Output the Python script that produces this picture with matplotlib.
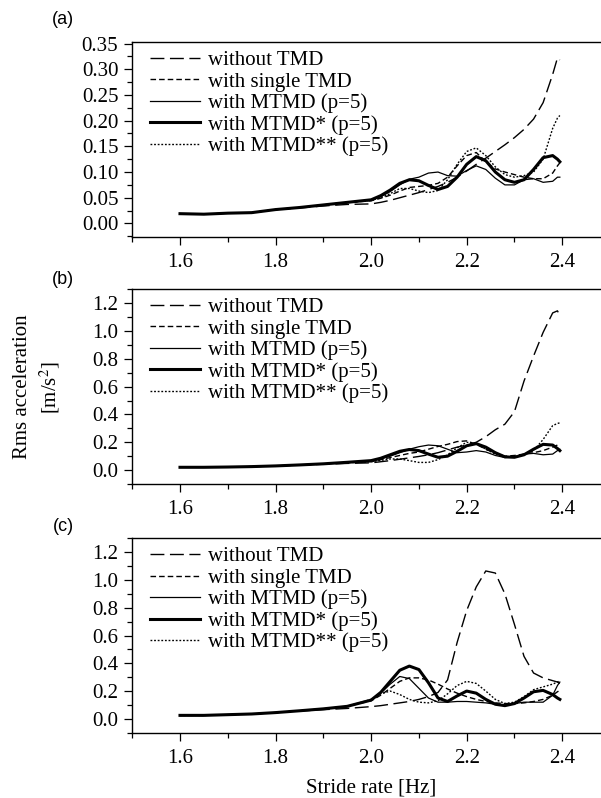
import matplotlib
matplotlib.use("Agg")
import matplotlib.pyplot as plt
from matplotlib.ticker import MultipleLocator, FormatStrFormatter

plt.rcParams["font.family"] = ["Liberation Serif", "DejaVu Serif"]
plt.rcParams["mathtext.fontset"] = "stix"

# stride rate grid shared by every curve [Hz]
STRIDE = [1.60, 1.65, 1.70, 1.75, 1.80, 1.85, 1.90, 1.95, 2.00, 2.02, 2.04, 2.06,
          2.08, 2.10, 2.12, 2.14, 2.16, 2.18, 2.20, 2.22, 2.24, 2.26, 2.28, 2.30,
          2.32, 2.34, 2.36, 2.38, 2.39, 2.395]

LABELS = ["without TMD", "with single TMD", "with MTMD (p=5)",
          "with MTMD* (p=5)", "with MTMD** (p=5)"]

# panel (a)
A_NONE = [0.019, 0.018, 0.020, 0.021, 0.027, 0.030, 0.034, 0.037, 0.038, 0.041, 0.045, 0.050,
          0.055, 0.060, 0.066, 0.072, 0.080, 0.090, 0.102, 0.115, 0.127, 0.140, 0.153, 0.167,
          0.183, 0.203, 0.235, 0.290, 0.322, 0.318]
A_SINGLE = [0.019, 0.018, 0.020, 0.021, 0.027, 0.031, 0.036, 0.041, 0.044, 0.049, 0.055, 0.063,
            0.070, 0.072, 0.074, 0.078, 0.090, 0.112, 0.132, 0.138, 0.120, 0.106, 0.100, 0.095,
            0.090, 0.087, 0.087, 0.098, 0.112, 0.118]
A_MTMD = [0.019, 0.018, 0.020, 0.021, 0.027, 0.031, 0.036, 0.041, 0.045, 0.052, 0.062, 0.075,
          0.086, 0.090, 0.098, 0.100, 0.093, 0.092, 0.103, 0.112, 0.105, 0.088, 0.075, 0.075,
          0.085, 0.087, 0.080, 0.082, 0.090, 0.090]
A_MTMD1 = [0.019, 0.018, 0.020, 0.021, 0.027, 0.031, 0.036, 0.041, 0.046, 0.054, 0.065, 0.078,
           0.085, 0.083, 0.074, 0.066, 0.072, 0.090, 0.115, 0.130, 0.122, 0.100, 0.085, 0.080,
           0.085, 0.105, 0.128, 0.132, 0.125, 0.120]
A_MTMD2 = [0.019, 0.018, 0.020, 0.021, 0.027, 0.031, 0.036, 0.041, 0.045, 0.050, 0.058, 0.068,
           0.068, 0.063, 0.060, 0.064, 0.085, 0.115, 0.140, 0.147, 0.132, 0.110, 0.095, 0.090,
           0.093, 0.100, 0.125, 0.185, 0.205, 0.210]

# panel (b)
B_NONE = [0.020, 0.020, 0.022, 0.025, 0.030, 0.036, 0.042, 0.048, 0.052, 0.060, 0.068, 0.078,
          0.088, 0.098, 0.110, 0.125, 0.145, 0.165, 0.180, 0.200, 0.240, 0.290, 0.330, 0.420,
          0.640, 0.820, 0.990, 1.130, 1.145, 1.110]
B_SINGLE = [0.020, 0.020, 0.022, 0.025, 0.030, 0.037, 0.045, 0.053, 0.060, 0.075, 0.090, 0.105,
            0.120, 0.130, 0.150, 0.170, 0.185, 0.205, 0.210, 0.185, 0.150, 0.120, 0.100, 0.105,
            0.115, 0.125, 0.140, 0.165, 0.180, 0.185]
B_MTMD = [0.020, 0.020, 0.022, 0.025, 0.030, 0.037, 0.045, 0.055, 0.065, 0.080, 0.100, 0.125,
          0.150, 0.168, 0.180, 0.175, 0.150, 0.125, 0.130, 0.140, 0.130, 0.105, 0.090, 0.095,
          0.115, 0.120, 0.110, 0.115, 0.140, 0.150]
B_MTMD1 = [0.020, 0.020, 0.022, 0.025, 0.030, 0.037, 0.045, 0.056, 0.068, 0.085, 0.110, 0.135,
           0.148, 0.140, 0.115, 0.092, 0.100, 0.135, 0.175, 0.190, 0.165, 0.125, 0.095, 0.092,
           0.110, 0.150, 0.185, 0.180, 0.155, 0.140]
B_MTMD2 = [0.020, 0.020, 0.022, 0.025, 0.030, 0.037, 0.045, 0.054, 0.060, 0.070, 0.080, 0.080,
           0.068, 0.055, 0.055, 0.075, 0.110, 0.160, 0.200, 0.190, 0.150, 0.115, 0.095, 0.095,
           0.110, 0.140, 0.220, 0.320, 0.335, 0.340]

# panel (c)
C_NONE = [0.025, 0.025, 0.030, 0.035, 0.045, 0.056, 0.066, 0.075, 0.088, 0.095, 0.105, 0.115,
          0.125, 0.140, 0.160, 0.190, 0.280, 0.550, 0.780, 0.950, 1.065, 1.050, 0.900, 0.680,
          0.450, 0.330, 0.295, 0.275, 0.265, 0.255]
C_SINGLE = [0.025, 0.025, 0.030, 0.035, 0.045, 0.058, 0.072, 0.090, 0.130, 0.170, 0.220, 0.270,
            0.295, 0.295, 0.280, 0.250, 0.215, 0.185, 0.160, 0.140, 0.125, 0.115, 0.110, 0.110,
            0.115, 0.125, 0.140, 0.170, 0.195, 0.205]
C_MTMD = [0.025, 0.025, 0.030, 0.035, 0.045, 0.058, 0.072, 0.090, 0.135, 0.185, 0.250, 0.305,
          0.290, 0.220, 0.150, 0.120, 0.120, 0.125, 0.125, 0.120, 0.115, 0.105, 0.100, 0.110,
          0.120, 0.120, 0.120, 0.170, 0.240, 0.265]
C_MTMD1 = [0.025, 0.025, 0.030, 0.035, 0.045, 0.058, 0.072, 0.090, 0.135, 0.190, 0.270, 0.350,
           0.380, 0.355, 0.260, 0.150, 0.125, 0.165, 0.200, 0.185, 0.140, 0.105, 0.095, 0.110,
           0.150, 0.195, 0.205, 0.175, 0.150, 0.140]
C_MTMD2 = [0.025, 0.025, 0.030, 0.035, 0.045, 0.058, 0.072, 0.090, 0.140, 0.180, 0.200, 0.175,
           0.140, 0.120, 0.115, 0.130, 0.180, 0.240, 0.270, 0.255, 0.200, 0.140, 0.110, 0.120,
           0.160, 0.210, 0.230, 0.250, 0.265, 0.275]

STYLES = [
    dict(lw=1.0, dashes=(10, 4)),
    dict(lw=1.0, dashes=(4, 2.2)),
    dict(lw=0.9, ls="-"),
    dict(lw=2.2, ls="-"),
    dict(lw=1.0, dashes=(1.3, 1.3)),
]

PANELS = [
    ("(a)", [A_NONE, A_SINGLE, A_MTMD, A_MTMD1, A_MTMD2], (-0.027, 0.353), 0.05, 0.025, "%.2f"),
    ("(b)", [B_NONE, B_SINGLE, B_MTMD, B_MTMD1, B_MTMD2], (-0.1, 1.3), 0.2, 0.1, "%.1f"),
    ("(c)", [C_NONE, C_SINGLE, C_MTMD, C_MTMD1, C_MTMD2], (-0.1, 1.3), 0.2, 0.1, "%.1f"),
]

# axes boxes in figure fractions (left, bottom, width, height)
BOXES = [(0.22, 0.7026, 0.795, 0.2448),
         (0.22, 0.3935, 0.795, 0.2440),
         (0.22, 0.0818, 0.795, 0.2436)]
TAG_Y = [0.976, 0.650, 0.340]

fig = plt.figure(figsize=(6.01, 7.98), dpi=100)

for (tag, series, ylim, major, minor, fmt), box, tag_y in zip(PANELS, BOXES, TAG_Y):
    ax = fig.add_axes(box)
    for values, label, style in zip(series, LABELS, STYLES):
        ax.plot(STRIDE, values, color="black", label=label, **style)
    ax.set_xlim(1.5, 2.5)
    ax.set_ylim(*ylim)
    ax.xaxis.set_major_locator(MultipleLocator(0.2))
    ax.xaxis.set_minor_locator(MultipleLocator(0.1))
    ax.xaxis.set_major_formatter(FormatStrFormatter("%.1f"))
    ax.yaxis.set_major_locator(MultipleLocator(major))
    ax.yaxis.set_minor_locator(MultipleLocator(minor))
    ax.yaxis.set_major_formatter(FormatStrFormatter(fmt))
    ax.tick_params(which="major", direction="out", length=6, width=0.9, labelsize=15, pad=4)
    ax.tick_params(axis="x", which="major", pad=5.5)
    ax.tick_params(which="minor", direction="out", length=3.5, width=0.9)
    ax.tick_params(top=False, right=False, which="both")
    for side in ("left", "bottom", "top"):
        ax.spines[side].set_linewidth(1.0)
    ax.spines["right"].set_visible(False)
    ax.legend(loc="upper left", bbox_to_anchor=(0.037, 0.956), frameon=False,
              fontsize=15, handlelength=2.4, handletextpad=0.4, labelspacing=0.085,
              borderpad=0, borderaxespad=0)
    fig.text(63 / 601, tag_y, tag, family="Liberation Sans", fontsize=13,
             ha="center", va="center")
    if tag == "(c)":
        ax.set_xlabel("Stride rate [Hz]", fontsize=15, labelpad=8)

fig.text(0.063, 0.515, "Rms acceleration\n[m/s$^2$]", rotation=90, fontsize=15,
         ha="center", va="center", linespacing=1.3)

fig.savefig("out.png", dpi=100)
